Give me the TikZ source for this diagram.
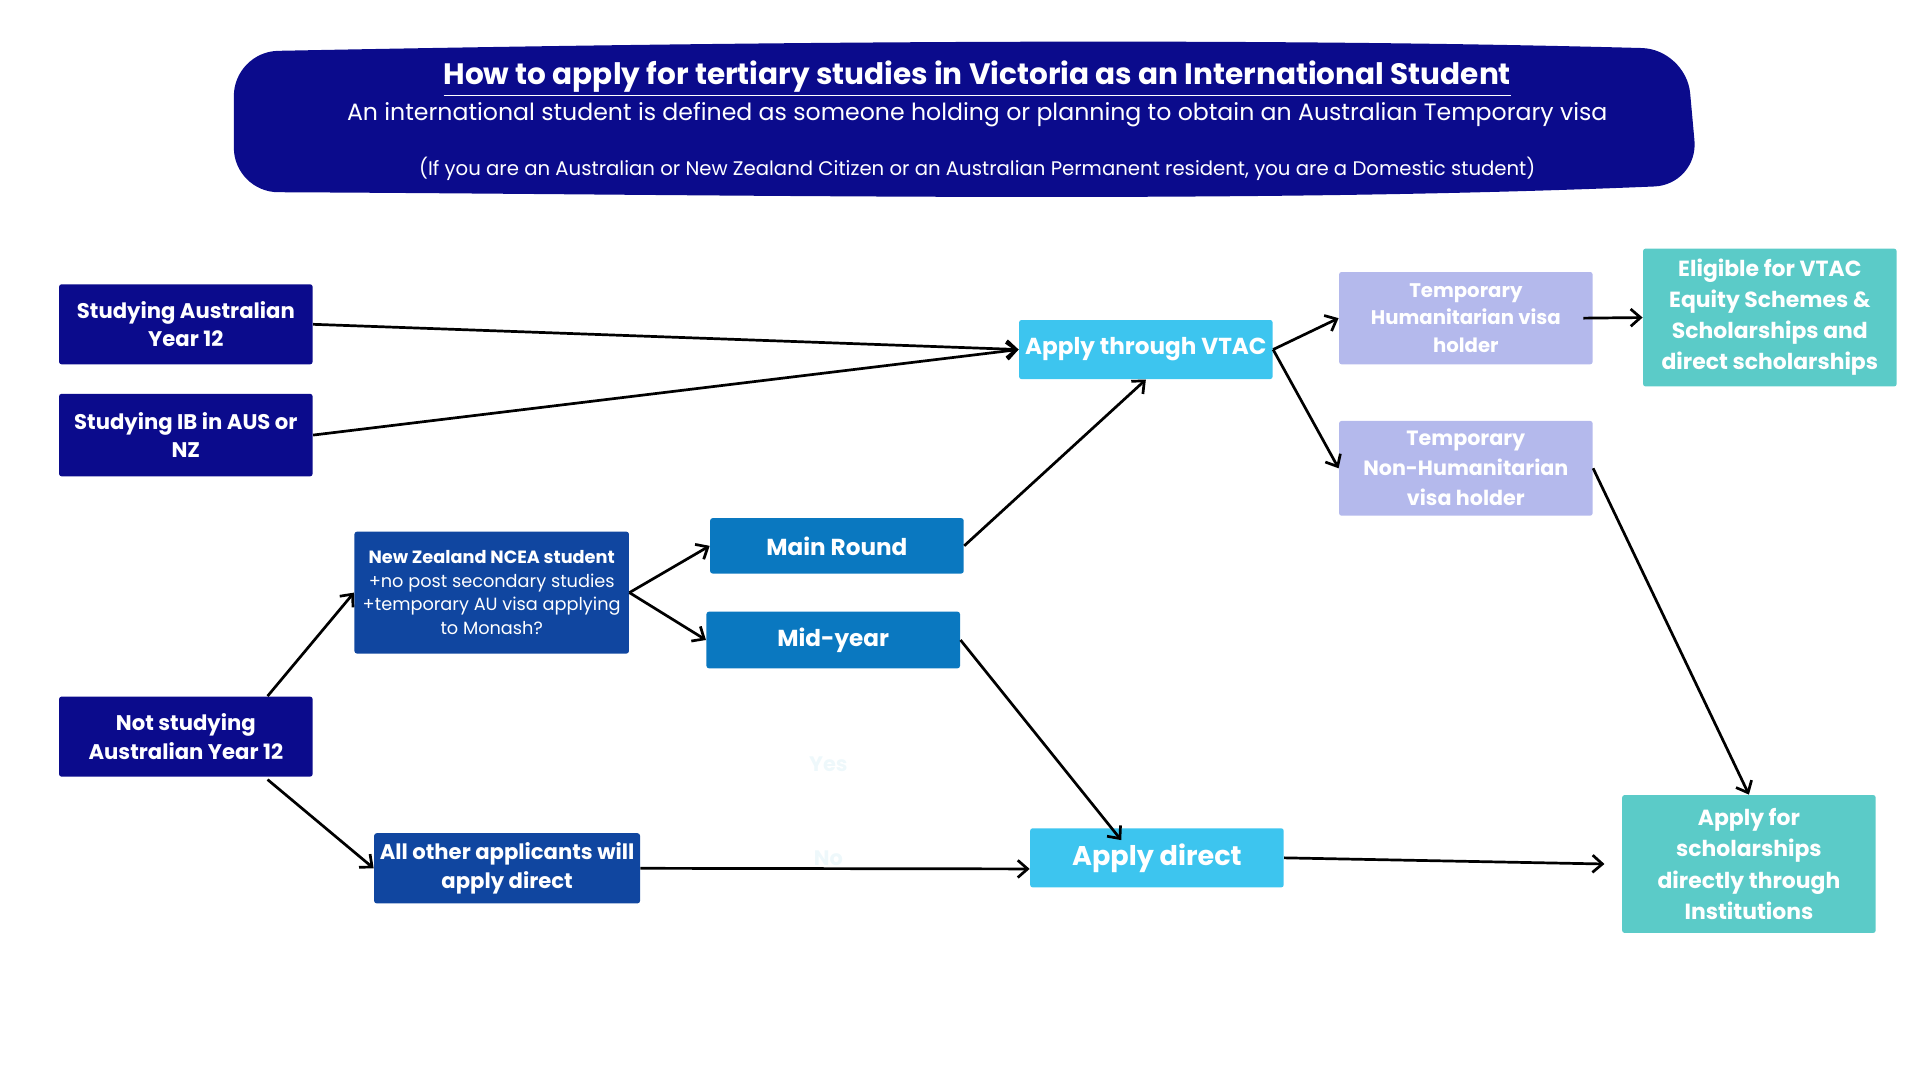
\documentclass[tikz,border=0pt]{standalone}
\usepackage{fontspec}
\setmainfont{Poppins}
\usetikzlibrary{positioning,arrows.meta}
\definecolor{navy}{HTML}{0B0B8C}
\definecolor{midblue}{HTML}{1046A0}
\definecolor{roundblue}{HTML}{0A78C0}
\definecolor{skyblue}{HTML}{3DC5EF}
\definecolor{lilac}{HTML}{B4B9EC}
\definecolor{teal}{HTML}{5BCBC8}
\definecolor{faint}{HTML}{EEF8FB}
\begin{document}
\begin{tikzpicture}[x=0.5pt,y=-0.5pt]
      \tikzstyle{box}=[rounded corners=1pt,text=white,align=center,font=\bfseries\fontsize{8.6}{11.5}\selectfont,inner sep=0pt]
      \tikzstyle{edge}=[draw,line width=1.1pt,-{Straight Barb[length=4pt,width=7pt,line width=1.1pt]}]
      \useasboundingbox (0,0) rectangle (1560,878);
      \fill[navy,rounded corners=18pt] (190,42) .. controls (600,34) and (1000,30) .. (1370,40)
        -- (1380,150) .. controls (1000,166) and (600,158) .. (190,156) -- cycle;
      \node[white,font=\bfseries\fontsize{12}{14}\selectfont] (title) at (794,64) {\underline{How to apply for tertiary studies in Victoria as an International Student}};
      \node[white,font=\fontsize{9.6}{12}\selectfont] (sub) at (794,93) {An international student is defined as someone holding or planning to obtain an Australian Temporary visa};
      \node[white,font=\fontsize{8}{10}\selectfont] (note) at (794,137) {(If you are an Australian or New Zealand Citizen or an Australian Permanent resident, you are a Domestic student)};
      \node[box,fill=navy,minimum width=103pt,minimum height=32.5pt] (S1) at (151,263.5) {Studying Australian\\Year 12};
      \node[box,fill=navy,minimum width=103pt,minimum height=33.5pt] (S2) at (151,353.5) {Studying IB in AUS or\\NZ};
      \node[box,fill=navy,minimum width=103pt,minimum height=32.5pt] (NS) at (151,598.5) {Not studying\\Australian Year 12};
      \node[box,fill=midblue,minimum width=111.5pt,minimum height=49.5pt,font=\fontsize{7.2}{9.6}\selectfont] (NZ) at (399.5,481.5) {\textbf{New Zealand NCEA student}\\+no post secondary studies\\+temporary AU visa applying\\to Monash?};
      \node[box,fill=midblue,minimum width=108pt,minimum height=28.5pt] (ALL) at (412,705.5) {All other applicants will\\apply direct};
      \node[box,fill=roundblue,minimum width=103pt,minimum height=22.5pt,font=\bfseries\fontsize{9.4}{11}\selectfont] (MR) at (680,443.5) {Main Round};
      \node[box,fill=roundblue,minimum width=103pt,minimum height=23pt,font=\bfseries\fontsize{9.4}{11}\selectfont] (MY) at (677,520) {Mid-year};
      \node[box,fill=skyblue,minimum width=103pt,minimum height=24pt,font=\bfseries\fontsize{9.4}{11}\selectfont] (VTAC) at (931,284) {Apply through VTAC};
      \node[box,fill=skyblue,minimum width=103pt,minimum height=24pt,font=\bfseries\fontsize{11}{13}\selectfont] (AD) at (940,697) {Apply direct};
      \node[box,fill=lilac,minimum width=103pt,minimum height=37.5pt,font=\bfseries\fontsize{8}{11}\selectfont] (TH) at (1191,258.5) {Temporary\\Humanitarian visa\\holder};
      \node[box,fill=lilac,minimum width=103pt,minimum height=38.5pt,font=\bfseries\fontsize{8.4}{12}\selectfont] (TNH) at (1191,380.5) {Temporary\\Non-Humanitarian\\visa holder};
      \node[box,fill=teal,minimum width=103pt,minimum height=56pt,font=\bfseries\fontsize{8.9}{12.6}\selectfont] (EL) at (1438,258) {Eligible for VTAC\\Equity Schemes \&\\Scholarships and\\direct scholarships};
      \node[box,fill=teal,minimum width=103pt,minimum height=56pt,font=\bfseries\fontsize{8.9}{12.6}\selectfont] (AS) at (1421,702) {Apply for\\scholarships\\directly through\\Institutions};
      \node[faint,font=\bfseries\fontsize{8.5}{10}\selectfont] (yes) at (673,621) {Yes};
      \node[faint,font=\bfseries\fontsize{8.5}{10}\selectfont] (no) at (673,697) {No};
      \path[edge] (S1.east) -- (VTAC.west);
      \path[edge] (S2.east) -- (VTAC.west);
      \path[edge] ([xshift=-18.5pt]NS.north east) -- (NZ.west);
      \path[edge] ([xshift=-18.5pt,yshift=-1pt]NS.south east) -- (ALL.west);
      \path[edge] (NZ.east) -- (MR.west);
      \path[edge] (NZ.east) -- (MY.west);
      \path[edge] (MR.east) -- (VTAC.south);
      \path[edge] (MY.east) -- ([xshift=-14.5pt,yshift=-5pt]AD.north);
      \path[edge] (ALL.east) -- ([yshift=-4.5pt]AD.west);
      \path[edge] (VTAC.east) -- (TH.west);
      \path[edge] (VTAC.east) -- (TNH.west);
      \path[edge] ([xshift=-4pt]TH.east) -- (EL.west);
      \path[edge] (TNH.east) -- (AS.north);
      \path[edge] (AD.east) -- ([xshift=-7pt]AS.west);
    \end{tikzpicture}
\end{document}
